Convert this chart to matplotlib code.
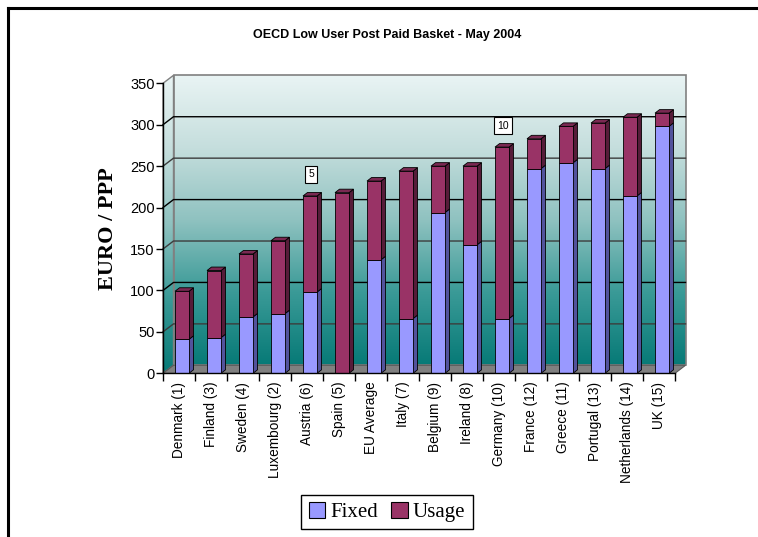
"""
OECD low user post paid basket, May 2004: stacked 3D-style columns
"""
import numpy as np
import matplotlib
matplotlib.use('Agg')
from matplotlib import pyplot as plt
from matplotlib.patches import Polygon, Patch
from matplotlib.lines import Line2D
from matplotlib.colors import LinearSegmentedColormap

categories = ['Denmark (1)', 'Finland (3)', 'Sweden (4)', 'Luxembourg (2)', 'Austria (6)',
              'Spain (5)', 'EU Average', 'Italy (7)', 'Belgium (9)', 'Ireland (8)',
              'Germany (10)', 'France (12)', 'Greece (11)', 'Portugal (13)',
              'Netherlands (14)', 'UK (15)']
fixed = [41, 43, 68, 72, 98, 0, 137, 66, 194, 155, 66, 247, 254, 247, 214, 298]
usage = [58, 81, 76, 88, 116, 218, 95, 178, 56, 95, 207, 36, 44, 55, 95, 16]
note_text = ['5', '10']
note_index = [4, 10]
y_ticks = [0, 50, 100, 150, 200, 250, 300, 350]

W, H = 758, 537
# pixel layout of the plot: front axis x range and value range
PX_X0, PX_X1 = 163, 675
PX_Y0, PX_Y350 = 373.3, 83.3
px_per_cat = (PX_X1 - PX_X0) / len(categories)
px_per_val = (PX_Y0 - PX_Y350) / 350.0


def px_to_data_x(px):
    return -0.5 + (px - PX_X0) / px_per_cat


def px_to_data_y(py):
    return (PX_Y0 - py) / px_per_val


def face(ax, pts, color, z=3):
    ax.add_patch(Polygon(pts, closed=True, facecolor=color, edgecolor='black',
                         linewidth=0.6, zorder=z))


def main():
    fig = plt.figure(figsize=(W / 100, H / 100), dpi=100)
    ax_l, ax_r, ax_t, ax_b = 140, 705, 55, 385
    ax = fig.add_axes([ax_l / W, 1 - ax_b / H, (ax_r - ax_l) / W, (ax_b - ax_t) / H])
    ax.set_xlim(px_to_data_x(ax_l), px_to_data_x(ax_r))
    ax.set_ylim(px_to_data_y(ax_b), px_to_data_y(ax_t))
    ax.patch.set_visible(False)

    n = len(categories)
    x0, x1 = -0.5, n - 0.5
    dx = 10.5 / px_per_cat      # wall depth
    dy = 8.0 / px_per_val
    top = 350

    wall_cmap = LinearSegmentedColormap.from_list(
        'wall', ['#077a77', '#3a9a97', '#8fc2c0', '#c5dedd', '#e9f4f4'])
    grad = np.linspace(0, 1, 256).reshape(-1, 1)

    # back wall
    ax.imshow(grad, cmap=wall_cmap, origin='lower', aspect='auto', interpolation='bilinear',
              extent=[x0 + dx, x1 + dx, dy, top + dy], zorder=0)
    ax.add_patch(Polygon([(x0 + dx, dy), (x1 + dx, dy), (x1 + dx, top + dy), (x0 + dx, top + dy)],
                         closed=True, fill=False, edgecolor='#808080', linewidth=1.2, zorder=1))
    # left wall
    left_wall = Polygon([(x0, 0), (x0 + dx, dy), (x0 + dx, top + dy), (x0, top)], closed=True,
                        facecolor='none', edgecolor='#808080', linewidth=1.0, zorder=1)
    ax.add_patch(left_wall)
    im = ax.imshow(grad, cmap=wall_cmap, origin='lower', aspect='auto', interpolation='bilinear',
                   extent=[x0, x0 + dx, 0, top + dy], zorder=0)
    im.set_clip_path(left_wall)

    # gridlines on the walls
    for v in y_ticks[1:-1]:
        col = 'black' if v % 100 == 0 else '#3c3c3c'
        ax.plot([x0, x0 + dx, x1 + dx], [v, v + dy, v + dy], color=col, linewidth=1.0, zorder=1)
    ax.plot([x0, x0 + dx], [0, dy], color='#606060', linewidth=0.8, zorder=1)

    # floor
    ax.add_patch(Polygon([(x0, 0), (x1, 0), (x1 + dx, dy), (x0 + dx, dy)], closed=True,
                         facecolor='#808080', edgecolor='#5a5a5a', linewidth=0.8, zorder=2))

    # stacked columns
    bw = 14.0 / px_per_cat
    shift = 3.0 / px_per_cat
    bdx = 4.5 / px_per_cat
    bdy = 3.5 / px_per_val
    seg_colors = [('#9999ff', '#52529c', '#7a7ad0'), ('#993366', '#561c39', '#7a2952')]
    for i in range(n):
        xl = i - bw / 2 + shift
        xr = xl + bw
        base = 0
        for (val, (c_front, c_side, c_top)) in zip([fixed[i], usage[i]], seg_colors):
            if val <= 0:
                continue
            y_lo, y_hi = base, base + val
            face(ax, [(xr, y_lo), (xr + bdx, y_lo + bdy), (xr + bdx, y_hi + bdy), (xr, y_hi)], c_side)
            face(ax, [(xl, y_lo), (xr, y_lo), (xr, y_hi), (xl, y_hi)], c_front)
            base = y_hi
        # top face uses the colour of the uppermost segment
        c_top = seg_colors[1][2] if usage[i] > 0 else seg_colors[0][2]
        face(ax, [(xl, base), (xr, base), (xr + bdx, base + bdy), (xl + bdx, base + bdy)], c_top)

    # rank notes above columns
    for t, i in zip(note_text, note_index):
        total = fixed[i] + usage[i]
        ax.text(i + shift + 0.04, total + 26, t, ha='center', va='center', fontsize=7.5,
                family='Liberation Sans', zorder=5,
                bbox=dict(boxstyle='square,pad=0.3', facecolor='white', edgecolor='black',
                          linewidth=0.8))

    # axes
    for s in ['top', 'right']:
        ax.spines[s].set_visible(False)
    ax.spines['left'].set_position(('data', x0))
    ax.spines['left'].set_bounds(0, top)
    ax.spines['bottom'].set_position(('data', 0))
    ax.spines['bottom'].set_bounds(x0, x1)
    for s in ['left', 'bottom']:
        ax.spines[s].set_linewidth(1.0)
        ax.spines[s].set_zorder(4)

    ax.set_yticks(y_ticks)
    ax.set_yticklabels([str(v) for v in y_ticks], family='Liberation Sans', fontsize=10.5)
    ax.tick_params(axis='y', length=5, width=1.0, pad=1)

    ax.set_xticks(np.arange(n))
    ax.set_xticklabels(categories, rotation=90, family='Liberation Sans', fontsize=9.8)
    ax.tick_params(axis='x', which='major', length=0, pad=6)
    ax.set_xticks(np.arange(n + 1) - 0.5, minor=True)
    ax.tick_params(axis='x', which='minor', length=6, width=1.0)

    # titles
    fig.text(387 / W, 1 - 35 / H, 'OECD Low User Post Paid Basket - May 2004',
             ha='center', va='center', fontsize=9, weight='bold', family='Liberation Sans')
    fig.text(108 / W, 1 - 229 / H, 'EURO / PPP', rotation=90, ha='center', va='center',
             fontsize=16, weight='bold', family='Liberation Serif')

    handles = [Patch(facecolor='#9999ff', edgecolor='black', linewidth=0.8),
               Patch(facecolor='#993366', edgecolor='black', linewidth=0.8)]
    fig.legend(handles, ['Fixed', 'Usage'], loc='center', bbox_to_anchor=(387 / W, 1 - 512 / H),
               ncol=2, prop={'family': 'Liberation Serif', 'size': 15}, frameon=True,
               fancybox=False, edgecolor='black', framealpha=1, handlelength=0.8,
               handleheight=0.8, handletextpad=0.25, columnspacing=0.6, borderpad=0.35)

    # outer frame (top and left edges)
    fig.add_artist(Line2D([8 / W, 1], [1 - 8 / H, 1 - 8 / H], transform=fig.transFigure,
                          color='black', linewidth=2.2))
    fig.add_artist(Line2D([8 / W, 8 / W], [0, 1 - 8 / H], transform=fig.transFigure,
                          color='black', linewidth=2.2))

    fig.savefig('out.png', dpi=100)


if __name__ == '__main__':
    main()
